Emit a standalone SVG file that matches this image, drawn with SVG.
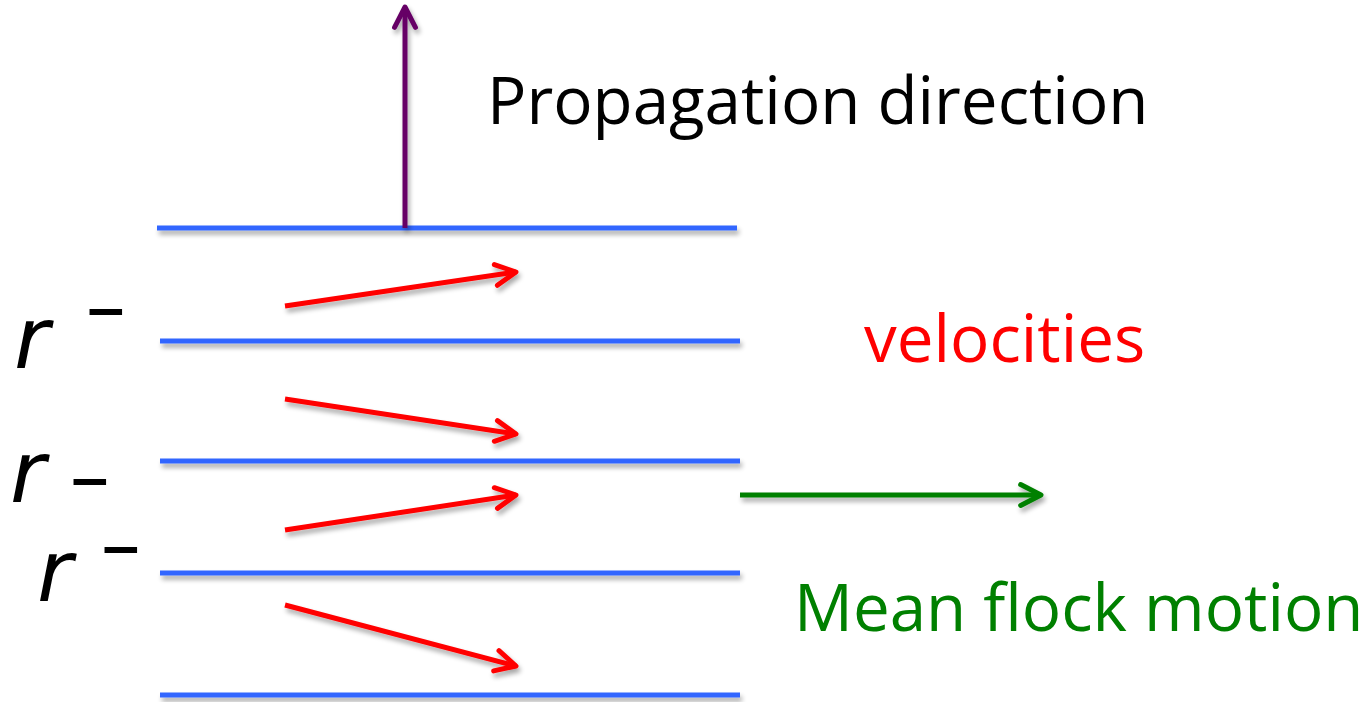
<svg xmlns="http://www.w3.org/2000/svg" width="1372" height="702" viewBox="0 0 1372 702">
<defs>
<filter id="sh" x="-5%" y="-50%" width="110%" height="300%">
<feGaussianBlur in="SourceAlpha" stdDeviation="2.5"/>
<feOffset dx="2" dy="4" result="b"/>
<feComponentTransfer><feFuncA type="linear" slope="0.35"/></feComponentTransfer>
<feMerge><feMergeNode/><feMergeNode in="SourceGraphic"/></feMerge>
</filter>
<marker id="mr" viewBox="0 0 10 10" refX="8.6" refY="5" markerWidth="5.5" markerHeight="5.5" orient="auto" markerUnits="strokeWidth"><path d="M1.2,1.2 L8.6,5 L1.2,8.8" fill="none" stroke="#FF0000" stroke-width="1.8" stroke-linecap="round" stroke-linejoin="round"/></marker>
<marker id="mg" viewBox="0 0 10 10" refX="8.6" refY="5" markerWidth="5.5" markerHeight="5.5" orient="auto" markerUnits="strokeWidth"><path d="M1.2,1.2 L8.6,5 L1.2,8.8" fill="none" stroke="#008000" stroke-width="1.8" stroke-linecap="round" stroke-linejoin="round"/></marker>
<marker id="mp" viewBox="0 0 10 10" refX="8.6" refY="5" markerWidth="5.5" markerHeight="5.5" orient="auto" markerUnits="strokeWidth"><path d="M1.2,1.2 L8.6,5 L1.2,8.8" fill="none" stroke="#660066" stroke-width="1.8" stroke-linecap="round" stroke-linejoin="round"/></marker>
</defs>
<style>
.layer{stroke:#3366FF;stroke-width:5;fill:none}
.vel{stroke:#FF0000;stroke-width:5;fill:none;marker-end:url(#mr)}
.lbl{font-family:"Open Sans","Liberation Sans",sans-serif;font-size:65.5px}
.r{font-family:"DejaVu Sans",sans-serif;font-style:italic;font-size:86px;fill:#000}
.m{font-family:"DejaVu Sans",sans-serif;font-size:52px;font-weight:bold;fill:#000}
</style>
<rect width="1372" height="702" fill="#FFFFFF"/>
<g id="layers" filter="url(#sh)">
<line class="layer" x1="157" y1="228" x2="737" y2="228"/>
<line class="layer" x1="160" y1="341" x2="740" y2="341"/>
<line class="layer" x1="160" y1="461" x2="740" y2="461"/>
<line class="layer" x1="160" y1="573" x2="740" y2="573"/>
<line class="layer" x1="160" y1="695" x2="740" y2="695"/>
</g>
<g id="connectors" filter="url(#sh)">
<line x1="405" y1="228" x2="405" y2="7" stroke="#660066" stroke-width="5" marker-end="url(#mp)"/>
<line class="vel" x1="285" y1="306" x2="516" y2="272"/>
<line class="vel" x1="285" y1="399" x2="516" y2="434"/>
<line class="vel" x1="285" y1="530" x2="516" y2="495"/>
<line class="vel" x1="285" y1="605" x2="516" y2="666"/>
<line x1="740" y1="495" x2="1041" y2="495" stroke="#008000" stroke-width="5" marker-end="url(#mg)"/>
</g>
<g id="labels">
<text class="lbl" x="487" y="124" fill="#000">Propagation direction</text>
<text class="lbl" x="864" y="362" fill="#FF0000">velocities</text>
<text class="lbl" x="794" y="631" fill="#008000">Mean flock motion</text>
</g>
<g id="r-labels">
<text class="r" x="14" y="368">r</text><text class="m" x="84" y="328">−</text>
<text class="r" x="10" y="502">r</text><text class="m" x="68" y="498">−</text>
<text class="r" x="37" y="601">r</text><text class="m" x="99" y="566">−</text>
</g>
</svg>
